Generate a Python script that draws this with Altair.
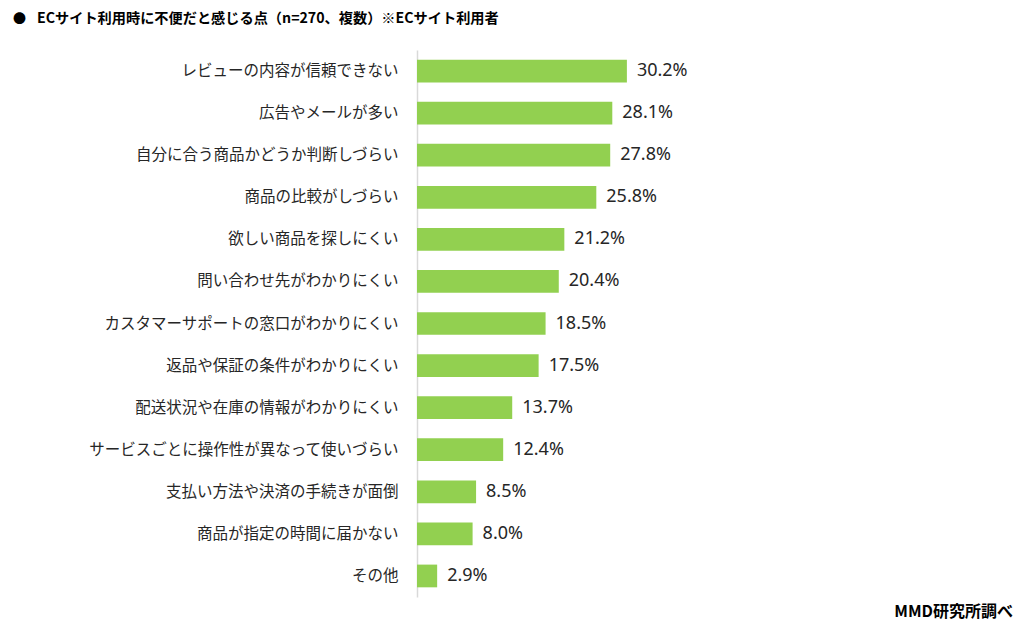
import altair as alt
import pandas as pd

FONT = "Noto Sans CJK JP"
NUM_FONT = "Noto Sans"

items = [
    "レビューの内容が信頼できない",
    "広告やメールが多い",
    "自分に合う商品かどうか判断しづらい",
    "商品の比較がしづらい",
    "欲しい商品を探しにくい",
    "問い合わせ先がわかりにくい",
    "カスタマーサポートの窓口がわかりにくい",
    "返品や保証の条件がわかりにくい",
    "配送状況や在庫の情報がわかりにくい",
    "サービスごとに操作性が異なって使いづらい",
    "支払い方法や決済の手続きが面倒",
    "商品が指定の時間に届かない",
    "その他",
]
shares = [30.2, 28.1, 27.8, 25.8, 21.2, 20.4, 18.5, 17.5, 13.7, 12.4, 8.5, 8.0, 2.9]

title_text = "ECサイト利用時に不便だと感じる点（n=270、複数）※ECサイト利用者"
source_text = "MMD研究所調べ"

df = pd.DataFrame({"item": items, "share": shares})
df["label"] = df["share"].map(lambda v: f"{v:.1f}%")

y_enc = alt.Y(
    "item:N",
    sort=items,
    title=None,
    scale=alt.Scale(paddingInner=0.46, paddingOuter=0.23),
    axis=alt.Axis(
        ticks=False,
        domainColor="#d9d9d9",
        domainWidth=1.5,
        labelFont=FONT,
        labelFontSize=15.5,
        labelColor="#262626",
        labelPadding=19,
        labelLimit=400,
    ),
)
x_enc = alt.X("share:Q", title=None, scale=alt.Scale(domain=[0, 40]), axis=None)

base = alt.Chart(df).encode(x=x_enc, y=y_enc)

bars = base.mark_bar(color="#92D050")
labels = base.mark_text(
    align="left", baseline="middle", dx=10, font=NUM_FONT, fontSize=18, color="#262626"
).encode(text="label:N")

bullet = alt.Chart(pd.DataFrame({"t": ["●"]})).mark_text(
    align="left", baseline="middle", font=FONT, fontSize=13, color="#000000"
).encode(x=alt.value(-404), y=alt.value(-31), text="t:N")

heading = alt.Chart(pd.DataFrame({"t": [title_text]})).mark_text(
    align="left", baseline="middle", font=FONT, fontSize=14.2, fontWeight="bold", color="#000000"
).encode(x=alt.value(-380), y=alt.value(-31), text="t:N")

source = alt.Chart(pd.DataFrame({"t": [source_text]})).mark_text(
    align="right", baseline="middle", font=FONT, fontSize=16, fontWeight="bold", color="#000000"
).encode(x=alt.value(596), y=alt.value(562), text="t:N")

chart = (
    alt.layer(bars, labels, bullet, heading, source)
    .properties(
        width=278,
        height=547,
        autosize=alt.AutoSizeParams(type="none"),
        padding={"left": 409, "top": 42, "right": 321, "bottom": 26},
        background="#ffffff",
    )
    .configure_view(stroke=None)
)

chart.save("out.html", embed_options={"renderer": "svg", "actions": False})
